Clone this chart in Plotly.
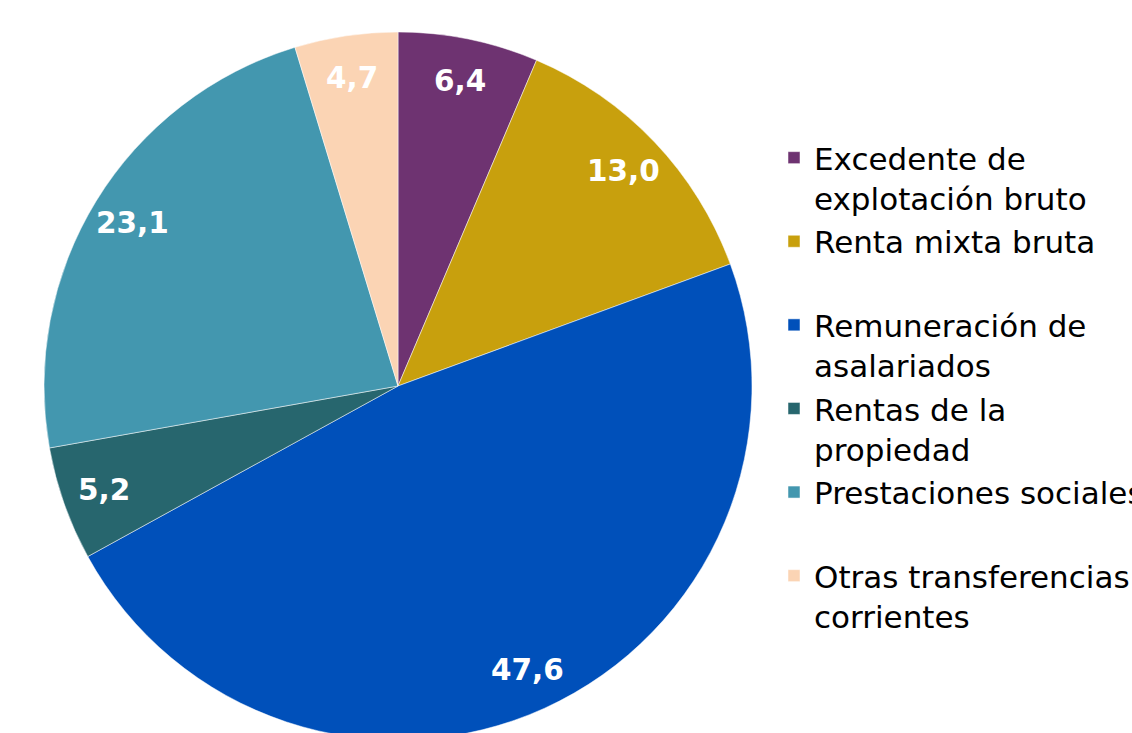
import numpy as np
import plotly.graph_objects as go

# Distribución de la renta (%)
categorias = ["Excedente de<br>explotación bruto", "Renta mixta bruta<br> ",
              "Remuneración de<br>asalariados", "Rentas de la<br>propiedad",
              "Prestaciones sociales<br> ", "Otras transferencias<br>corrientes"]
valores = [6.4, 13.0, 47.6, 5.2, 23.1, 4.7]
colores = ["#6E3371", "#C8A00D", "#0050BA", "#27666E", "#4397AF", "#FBD4B4"]

W, H = 1132, 742
dom_x = [44 / W, 752 / W]
dom_y = [(H - 740) / H, (H - 32) / H]

fig = go.Figure()
fig.add_trace(go.Pie(
    labels=categorias, values=valores, sort=False, direction="clockwise",
    rotation=0, textinfo="none", hoverinfo="skip",
    marker=dict(colors=colores, line=dict(color="white", width=0.5)),
    domain=dict(x=dom_x, y=dom_y),
))

# etiquetas de valor cerca del borde exterior de cada sector
total = sum(valores)
acum = np.cumsum(valores)
ang = np.radians([(c - v / 2) / total * 360 for c, v in zip(acum, valores)])
cx = (dom_x[0] + dom_x[1]) / 2
cy = (dom_y[0] + dom_y[1]) / 2
rad = (dom_x[1] - dom_x[0]) * W / 2
for v, a in zip(valores, ang):
    fig.add_annotation(
        x=cx + 0.88 * rad * np.sin(a) / W, y=cy + 0.88 * rad * np.cos(a) / H,
        xref="paper", yref="paper", xanchor="center", yanchor="middle",
        showarrow=False,
        text=f"{v:.1f}".replace(".", ","),
        font=dict(family="DejaVu Sans", size=29.5, color="white", weight="bold"),
    )

fig.update_layout(
    width=W, height=H,
    margin=dict(l=0, r=0, t=0, b=0, autoexpand=False),
    paper_bgcolor="white",
    font=dict(family="DejaVu Sans", color="black"),
    legend=dict(
        x=774 / W, xanchor="left", y=(H - 131) / H, yanchor="top",
        font=dict(size=31, family="DejaVu Sans"), valign="top",
        bgcolor="rgba(0,0,0,0)",
    ),
)

fig.write_html("out.html", config={"displayModeBar": False},
               post_script="document.body.style.margin='0';document.body.style.overflow='hidden';")
